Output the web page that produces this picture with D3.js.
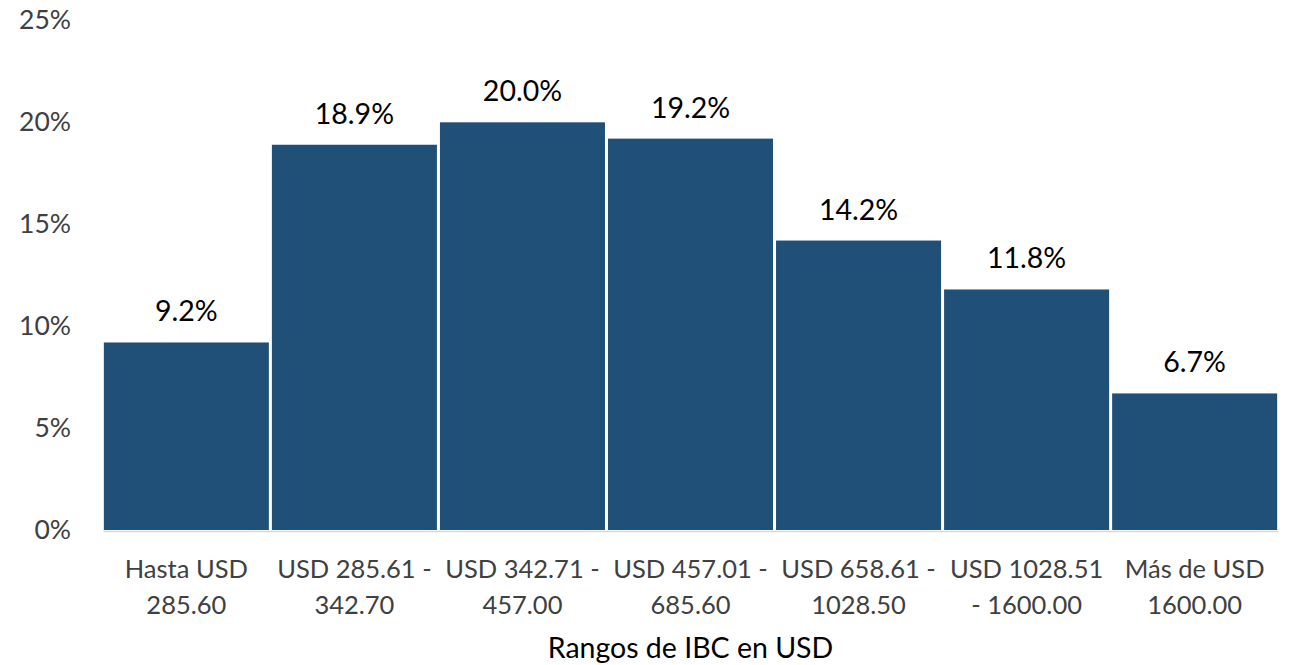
<!DOCTYPE html>
<html><head><meta charset="utf-8">
<script src="https://cdn.jsdelivr.net/npm/d3@7"></script>
<style>body{margin:0;background:#fff}svg{display:block}</style>
</head><body>
<svg id="c" width="1294" height="665"></svg>
<script>
const categories = [["Hasta USD","285.60"],["USD 285.61 -","342.70"],["USD 342.71 -","457.00"],["USD 457.01 -","685.60"],["USD 658.61 -","1028.50"],["USD 1028.51","- 1600.00"],["Más de USD","1600.00"]];
const values = [9.2, 18.9, 20.0, 19.2, 14.2, 11.8, 6.7];
const yTicks = [0, 5, 10, 15, 20, 25];
const xTitle = "Rangos de IBC en USD";

const svg = d3.select("#c");
const font = "Lato, 'Open Sans', sans-serif";
const mLeft = 103, mRight = 1278, mTop = 20.4, mBottom = 530;
const keys = categories.map((d,i)=>i);
const x = d3.scaleBand().domain(keys).range([mLeft, mRight]).paddingInner(0.018).paddingOuter(0.005);
const y = d3.scaleLinear().domain([0, 25]).range([mBottom, mTop]);

// y axis labels
const ya = svg.append("g").attr("transform", `translate(${mLeft},0)`)
  .call(d3.axisLeft(y).tickValues(yTicks).tickFormat(d=>d+"%").tickSize(0).tickPadding(32));
ya.select(".domain").remove();
ya.selectAll("text").attr("font-family", font).attr("font-size", 26.5).attr("fill", "#404040");

// bars
svg.append("g").selectAll("rect").data(values).join("rect")
  .attr("x", (d,i)=>x(i)).attr("width", x.bandwidth())
  .attr("y", d=>y(d)).attr("height", d=>y(0)-y(d))
  .attr("fill", "#204f78");

// baseline
const xa = svg.append("g").attr("transform", `translate(0,${mBottom+1})`)
  .call(d3.axisBottom(x).tickSize(0).tickFormat(""));
xa.select(".domain").attr("stroke", "#d9d9d9").attr("stroke-width", 1.5);

// category labels
const cl = svg.append("g").selectAll("text").data(categories).join("text")
  .attr("x", (d,i)=>x(i)+x.bandwidth()/2).attr("y", 578)
  .attr("text-anchor", "middle").attr("font-family", font).attr("font-size", 25.5).attr("fill", "#404040");
cl.selectAll("tspan").data(d=>d).join("tspan")
  .attr("x", function(){return this.parentNode.getAttribute("x");})
  .attr("dy", (d,i)=>i===0?0:36).text(d=>d);

// data labels
svg.append("g").selectAll("text").data(values).join("text")
  .attr("x", (d,i)=>x(i)+x.bandwidth()/2).attr("y", d=>y(d)-21)
  .attr("text-anchor", "middle").attr("font-family", font).attr("font-size", 28.5).attr("fill", "#000")
  .text(d=>d.toFixed(1)+"%");

// x title
svg.append("text").attr("x", (mLeft+mRight)/2).attr("y", 658).attr("text-anchor", "middle")
  .attr("font-family", font).attr("font-size", 28.5).attr("fill", "#000").text(xTitle);
</script>
</body></html>
